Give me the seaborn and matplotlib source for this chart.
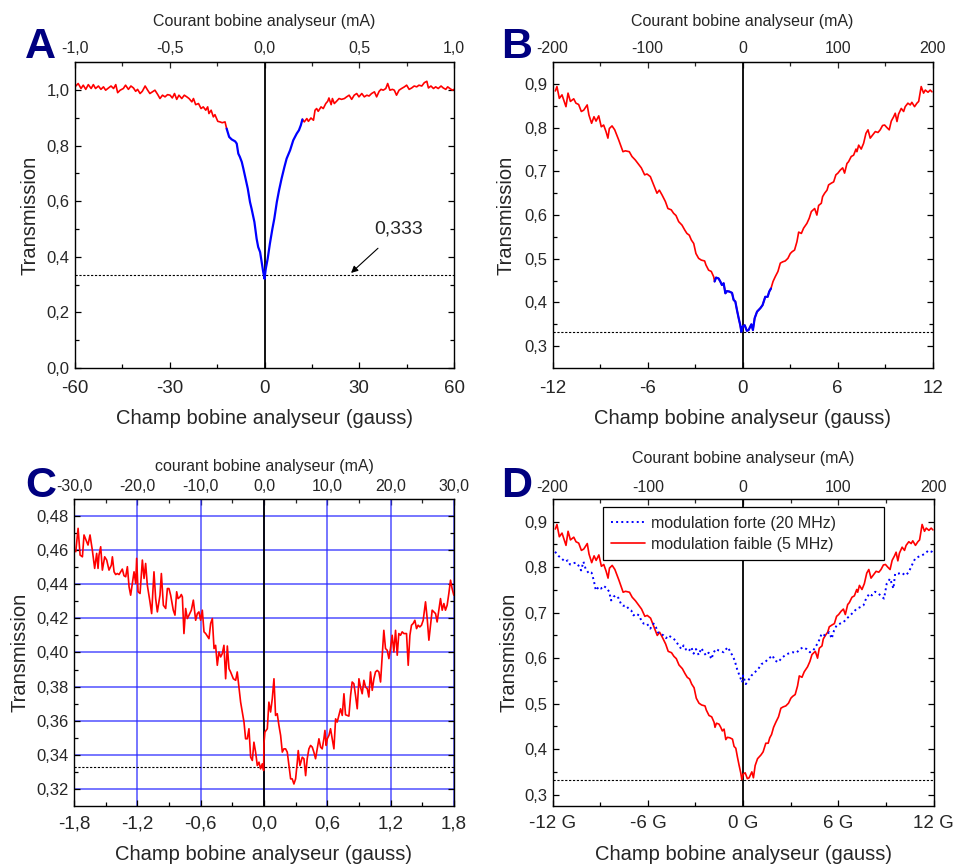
import matplotlib
matplotlib.use('Agg')
import matplotlib.pyplot as plt
import seaborn as sns
import numpy as np
from matplotlib.ticker import FixedLocator

# ---------------- données ----------------
# A : balayage large (gauss) ; partie centrale en bleu
a_left_x = [-60.0, -59.0, -58.1, -57.4, -56.6, -55.8, -54.9, -54.2, -53.5, -52.6,
            -51.8, -51.0, -50.3, -49.4, -48.6, -47.8, -47.1, -46.5, -45.7, -44.7,
            -44.0, -43.1, -42.3, -41.5, -40.8, -40.2, -39.4, -38.7, -37.8, -37.0,
            -36.3, -35.5, -34.7, -33.8, -33.1, -32.3, -31.5, -30.7, -29.9, -29.2,
            -28.5, -27.8, -27.1, -26.2, -25.4, -24.6, -23.9, -23.0, -22.5, -21.8,
            -20.9, -20.1, -19.4, -18.6, -18.0, -17.6, -16.9, -16.2, -15.7, -14.8,
            -14.1, -13.4, -12.5, -12.0]
a_left_y = [1.011, 1.023, 1.005, 1.017, 1.002, 1.019, 1.005, 1.019, 1.005, 1.014,
            1.002, 1.011, 0.999, 1.007, 1.014, 1.005, 1.019, 0.990, 0.999, 1.005,
            1.017, 1.002, 1.014, 1.007, 0.995, 1.002, 0.987, 0.995, 1.014, 0.999,
            0.987, 0.993, 0.999, 0.983, 0.969, 0.981, 0.975, 0.983, 0.981, 0.971,
            0.987, 0.966, 0.981, 0.969, 0.981, 0.975, 0.969, 0.957, 0.969, 0.947,
            0.951, 0.933, 0.939, 0.927, 0.939, 0.915, 0.927, 0.903, 0.911, 0.887,
            0.885, 0.882, 0.885, 0.861]
a_mid_x = [-12.0, -11.2, -10.4, -9.3, -8.8, -8.3, -7.8, -7.2, -6.7, -6.0,
           -5.3, -4.6, -4.1, -3.2, -2.5, -2.0, -1.4, -0.9, -0.4, 0.0,
           0.4, 1.0, 1.7, 2.5, 3.1, 3.9, 4.6, 5.4, 6.3, 7.0,
           8.1, 9.1, 10.2, 10.9, 11.5, 12.0]
a_mid_y = [0.861, 0.831, 0.822, 0.815, 0.807, 0.771, 0.759, 0.741, 0.717, 0.681,
           0.645, 0.597, 0.573, 0.525, 0.465, 0.435, 0.417, 0.381, 0.345, 0.321,
           0.357, 0.393, 0.447, 0.501, 0.537, 0.597, 0.639, 0.681, 0.723, 0.753,
           0.783, 0.819, 0.843, 0.855, 0.873, 0.894]
a_right_x = [12.0, 12.6, 13.4, 13.9, 14.7, 15.5, 16.0, 16.5, 17.0, 17.9,
             18.6, 19.4, 20.0, 20.4, 21.1, 21.5, 22.1, 22.8, 23.6, 24.4,
             25.3, 26.0, 26.8, 27.6, 28.4, 29.2, 29.9, 30.8, 31.6, 32.4,
             33.1, 33.9, 34.8, 35.5, 36.3, 36.9, 37.6, 38.4, 39.0, 39.7,
             40.5, 41.1, 41.8, 42.6, 43.4, 44.3, 45.0, 45.8, 46.6, 47.4,
             48.2, 48.9, 49.8, 50.6, 51.4, 51.9, 52.7, 53.5, 54.2, 55.0,
             55.9, 56.6, 57.4, 58.0, 58.7, 59.5, 60.0]
a_right_y = [0.894, 0.885, 0.897, 0.887, 0.899, 0.891, 0.927, 0.933, 0.923, 0.939,
             0.933, 0.951, 0.959, 0.971, 0.947, 0.969, 0.951, 0.959, 0.969, 0.966,
             0.969, 0.975, 0.981, 0.966, 0.981, 0.987, 0.975, 0.987, 0.975, 0.981,
             0.978, 0.987, 0.993, 0.975, 0.995, 1.002, 0.999, 1.005, 1.023, 0.999,
             1.002, 0.999, 0.981, 0.999, 1.005, 1.011, 1.017, 1.002, 1.007, 1.014,
             1.011, 1.017, 1.014, 1.026, 1.031, 1.007, 1.014, 1.005, 1.011, 1.005,
             1.014, 1.007, 1.002, 1.011, 1.005, 0.999, 1.002]

# B et D : modulation faible (5 MHz), champ en gauss
b_x = [-11.83, -11.73, -11.58, -11.41, -11.16, -11.03, -10.88, -10.67, -10.53, -10.36,
       -10.19, -10.04, -9.82, -9.71, -9.54, -9.39, -9.26, -9.09, -8.93, -8.78,
       -8.63, -8.51, -8.42, -8.25, -8.08, -7.83, -7.56, -7.41, -7.16, -6.99,
       -6.78, -6.61, -6.40, -6.19, -6.04, -5.83, -5.62, -5.41, -5.26, -5.09,
       -4.88, -4.72, -4.51, -4.36, -4.21, -4.04, -3.83, -3.66, -3.52, -3.37,
       -3.24, -3.09, -2.95, -2.78, -2.61, -2.40, -2.32, -2.15, -1.98, -1.83,
       -1.77, -1.68, -1.52, -1.41, -1.31, -1.20, -1.09, -0.99, -0.84, -0.67,
       -0.57, -0.46, -0.36, -0.25, -0.15, -0.08, 0.00, 0.13, 0.27, 0.38,
       0.55, 0.65, 0.76, 0.91, 1.12, 1.26, 1.43, 1.58, 1.68, 1.79,
       1.92, 2.06, 2.23, 2.38, 2.53, 2.69, 2.86, 3.01, 3.12, 3.28,
       3.43, 3.54, 3.71, 3.85, 4.06, 4.21, 4.34, 4.55, 4.69, 4.80,
       4.97, 5.05, 5.18, 5.33, 5.43, 5.60, 5.75, 5.89, 6.02, 6.17,
       6.32, 6.44, 6.59, 6.69, 6.86, 7.01, 7.16, 7.22, 7.33, 7.49,
       7.64, 7.79, 7.92, 8.06, 8.21, 8.38, 8.55, 8.69, 8.84, 8.97,
       9.12, 9.26, 9.39, 9.54, 9.64, 9.75, 9.85, 10.02, 10.17, 10.27,
       10.44, 10.59, 10.69, 10.86, 11.01, 11.12, 11.28, 11.43, 11.54, 11.71,
       11.85, 11.96]
b_y = [0.884, 0.894, 0.867, 0.875, 0.848, 0.879, 0.860, 0.866, 0.856, 0.853,
       0.837, 0.840, 0.852, 0.829, 0.810, 0.825, 0.815, 0.827, 0.802, 0.806,
       0.791, 0.776, 0.798, 0.804, 0.795, 0.772, 0.745, 0.747, 0.745, 0.734,
       0.726, 0.718, 0.708, 0.692, 0.694, 0.688, 0.669, 0.650, 0.657, 0.646,
       0.631, 0.615, 0.612, 0.604, 0.599, 0.585, 0.577, 0.566, 0.558, 0.554,
       0.543, 0.535, 0.512, 0.501, 0.497, 0.495, 0.486, 0.474, 0.471, 0.459,
       0.448, 0.457, 0.455, 0.448, 0.440, 0.444, 0.421, 0.426, 0.425, 0.422,
       0.406, 0.402, 0.383, 0.364, 0.348, 0.333, 0.345, 0.348, 0.335, 0.337,
       0.350, 0.337, 0.364, 0.379, 0.387, 0.394, 0.413, 0.413, 0.425, 0.432,
       0.448, 0.459, 0.471, 0.490, 0.493, 0.495, 0.501, 0.512, 0.516, 0.520,
       0.539, 0.561, 0.558, 0.570, 0.581, 0.593, 0.608, 0.615, 0.600, 0.622,
       0.627, 0.642, 0.650, 0.657, 0.669, 0.673, 0.676, 0.692, 0.696, 0.703,
       0.708, 0.696, 0.718, 0.722, 0.734, 0.737, 0.751, 0.745, 0.760, 0.751,
       0.764, 0.787, 0.795, 0.776, 0.783, 0.791, 0.789, 0.795, 0.805, 0.806,
       0.800, 0.795, 0.815, 0.825, 0.833, 0.814, 0.831, 0.844, 0.837, 0.848,
       0.856, 0.852, 0.858, 0.848, 0.856, 0.860, 0.894, 0.879, 0.886, 0.881,
       0.886, 0.882]
b_blue_limit = 1.8

# C : zoom au centre, courbe bruitée
c_x = [-1.783, -1.761, -1.742, -1.720, -1.705, -1.679, -1.667, -1.648, -1.626, -1.604,
       -1.585, -1.572, -1.563, -1.547, -1.531, -1.509, -1.490, -1.468, -1.446, -1.436,
       -1.420, -1.405, -1.389, -1.373, -1.357, -1.342, -1.326, -1.310, -1.294, -1.278,
       -1.263, -1.247, -1.231, -1.215, -1.206, -1.193, -1.174, -1.152, -1.136, -1.121,
       -1.105, -1.080, -1.064, -1.042, -1.026, -1.010, -0.985, -0.972, -0.953, -0.931,
       -0.915, -0.900, -0.884, -0.859, -0.843, -0.827, -0.814, -0.795, -0.783, -0.773,
       -0.758, -0.742, -0.726, -0.710, -0.688, -0.669, -0.647, -0.631, -0.616, -0.600,
       -0.584, -0.568, -0.552, -0.521, -0.505, -0.489, -0.473, -0.458, -0.442, -0.426,
       -0.410, -0.395, -0.379, -0.363, -0.347, -0.331, -0.316, -0.290, -0.268, -0.253,
       -0.237, -0.221, -0.205, -0.189, -0.174, -0.158, -0.142, -0.126, -0.110, -0.095,
       -0.079, -0.063, -0.047, -0.032, -0.016, -0.003,
       0.000, 0.009, 0.032, 0.047, 0.063, 0.079, 0.095, 0.110, 0.126, 0.142,
       0.158, 0.174, 0.189, 0.205, 0.221, 0.237, 0.253, 0.268, 0.284, 0.300,
       0.316, 0.325, 0.341, 0.363, 0.379, 0.395, 0.410, 0.426, 0.442, 0.458,
       0.473, 0.489, 0.505, 0.521, 0.537, 0.552, 0.568, 0.578, 0.590, 0.600,
       0.616, 0.631, 0.647, 0.663, 0.679, 0.694, 0.710, 0.726, 0.742, 0.758,
       0.773, 0.789, 0.805, 0.821, 0.836, 0.852, 0.868, 0.884, 0.900, 0.915,
       0.931, 0.947, 0.963, 0.979, 0.994, 1.010, 1.026, 1.042, 1.057, 1.073,
       1.089, 1.105, 1.121, 1.136, 1.152, 1.168, 1.184, 1.199, 1.215, 1.231,
       1.247, 1.263, 1.278, 1.294, 1.310, 1.326, 1.351, 1.367, 1.383, 1.398,
       1.414, 1.430, 1.446, 1.461, 1.477, 1.493, 1.509, 1.531, 1.547, 1.563,
       1.578, 1.594, 1.610, 1.626, 1.641, 1.657, 1.673, 1.689, 1.705, 1.720,
       1.736, 1.752, 1.768, 1.783, 1.799]
c_y = [0.4591, 0.4728, 0.4571, 0.4561, 0.4689, 0.4649, 0.4630, 0.4689, 0.4600, 0.4493,
       0.4581, 0.4493, 0.4571, 0.4620, 0.4483, 0.4561, 0.4542, 0.4483, 0.4512, 0.4561,
       0.4473, 0.4457, 0.4463, 0.4457, 0.4473, 0.4489, 0.4450, 0.4444, 0.4503, 0.4385,
       0.4336, 0.4405, 0.4473, 0.4405, 0.4552, 0.4356, 0.4346, 0.4542, 0.4434, 0.4522,
       0.4395, 0.4297, 0.4228, 0.4473, 0.4316, 0.4238, 0.4336, 0.4463, 0.4277, 0.4258,
       0.4375, 0.4375, 0.4336, 0.4248, 0.4219, 0.4356, 0.4316, 0.4326, 0.4340, 0.4326,
       0.4111, 0.4258, 0.4199, 0.4219, 0.4248, 0.4307, 0.4189, 0.4228, 0.4238, 0.4189,
       0.4248, 0.4121, 0.4111, 0.4081, 0.4170, 0.4199, 0.4023, 0.4042, 0.3925, 0.4003,
       0.3974, 0.3993, 0.4042, 0.3846, 0.4038, 0.3905, 0.3886, 0.3846, 0.3837, 0.3886,
       0.3797, 0.3709, 0.3651, 0.3592, 0.3494, 0.3494, 0.3553, 0.3386, 0.3367, 0.3474,
       0.3416, 0.3337, 0.3357, 0.3318, 0.3347, 0.3308,
       0.3465, 0.3533, 0.3553, 0.3709, 0.3651, 0.3729, 0.3846, 0.3631, 0.3641, 0.3572,
       0.3514, 0.3416, 0.3435, 0.3435, 0.3416, 0.3337, 0.3259, 0.3259, 0.3229, 0.3259,
       0.3357, 0.3425, 0.3337, 0.3386, 0.3377, 0.3278, 0.3377, 0.3435, 0.3455, 0.3445,
       0.3416, 0.3377, 0.3435, 0.3494, 0.3445, 0.3435, 0.3494, 0.3543, 0.3455, 0.3494,
       0.3514, 0.3553, 0.3494, 0.3435, 0.3611, 0.3592, 0.3631, 0.3670, 0.3631, 0.3758,
       0.3635, 0.3631, 0.3627, 0.3748, 0.3827, 0.3817, 0.3748, 0.3670, 0.3846, 0.3797,
       0.3758, 0.3837, 0.3797, 0.3788, 0.3739, 0.3886, 0.3778, 0.3846, 0.3886, 0.3895,
       0.3886, 0.3827, 0.3984, 0.4130, 0.4023, 0.4013, 0.3964, 0.4023, 0.4101, 0.4003,
       0.4130, 0.3984, 0.4111, 0.4101, 0.4121, 0.4111, 0.4111, 0.3925, 0.4101, 0.4160,
       0.4170, 0.4189, 0.4140, 0.4160, 0.4150, 0.4160, 0.4189, 0.4297, 0.4199, 0.4072,
       0.4160, 0.4248, 0.4238, 0.4228, 0.4179, 0.4248, 0.4316, 0.4248, 0.4287, 0.4248,
       0.4277, 0.4346, 0.4424, 0.4375, 0.4336]

# D : modulation forte (20 MHz)
d_x = [-11.85, -11.64, -11.43, -11.22, -11.05, -10.91, -10.76, -10.55, -10.38, -10.21,
       -10.06, -9.92, -9.71, -9.55, -9.41, -9.28, -9.09, -8.95, -8.80, -8.59,
       -8.44, -8.32, -8.17, -8.02, -7.85, -7.68, -7.54, -7.39, -7.22, -7.05,
       -6.91, -6.76, -6.55, -6.42, -6.27, -6.06, -5.85, -5.64, -5.49, -5.37,
       -5.22, -5.01, -4.86, -4.69, -4.53, -4.38, -4.23, -4.06, -3.89, -3.75,
       -3.60, -3.43, -3.26, -3.12, -2.97, -2.80, -2.63, -2.48, -2.34, -2.17,
       -2.00, -1.85, -1.71, -1.54, -1.37, -1.22, -1.07, -0.95, -0.80, -0.69,
       -0.53, -0.38, -0.23, -0.06,
       0.00, 0.17, 0.32, 0.53, 0.74, 0.95, 1.16, 1.37, 1.58, 1.85,
       2.00, 2.21, 2.42, 2.63, 2.84, 3.12, 3.37, 3.58, 3.79, 4.00,
       4.21, 4.42, 4.74, 4.95, 5.16, 5.43, 5.58, 5.73, 5.89, 6.11,
       6.32, 6.53, 6.74, 6.95, 7.16, 7.37, 7.58, 7.75, 7.96, 8.11,
       8.32, 8.53, 8.74, 8.88, 9.05, 9.26, 9.47, 9.58, 9.79, 10.00,
       10.21, 10.42, 10.63, 10.84, 11.05, 11.26, 11.47, 11.68, 11.89, 12.00]
d_y = [0.834, 0.825, 0.819, 0.812, 0.815, 0.806, 0.808, 0.810, 0.804, 0.793,
       0.812, 0.796, 0.786, 0.788, 0.771, 0.749, 0.757, 0.753, 0.759, 0.754,
       0.746, 0.727, 0.735, 0.738, 0.732, 0.718, 0.715, 0.716, 0.709, 0.705,
       0.694, 0.698, 0.694, 0.683, 0.676, 0.676, 0.665, 0.676, 0.668, 0.657,
       0.654, 0.650, 0.644, 0.650, 0.646, 0.643, 0.637, 0.628, 0.620, 0.628,
       0.619, 0.615, 0.624, 0.610, 0.620, 0.607, 0.622, 0.613, 0.606, 0.612,
       0.598, 0.613, 0.620, 0.617, 0.615, 0.613, 0.620, 0.624, 0.613, 0.607,
       0.595, 0.576, 0.562, 0.547,
       0.562, 0.543, 0.551, 0.562, 0.569, 0.576, 0.587, 0.591, 0.598, 0.606,
       0.595, 0.591, 0.600, 0.606, 0.610, 0.613, 0.612, 0.620, 0.624, 0.620,
       0.613, 0.617, 0.635, 0.654, 0.650, 0.657, 0.643, 0.661, 0.672, 0.676,
       0.679, 0.687, 0.694, 0.701, 0.709, 0.712, 0.716, 0.731, 0.742, 0.738,
       0.746, 0.742, 0.735, 0.731, 0.764, 0.775, 0.753, 0.786, 0.786, 0.788,
       0.782, 0.788, 0.804, 0.819, 0.823, 0.826, 0.830, 0.837, 0.834, 0.830]

seuil = 0.333
legend_labels = ['modulation forte (20 MHz)', 'modulation faible (5 MHz)']

# graduations
a_xticks = [-60, -30, 0, 30, 60]
a_xlabels = ['-60', '-30', '0', '30', '60']
a_yticks = [0.0, 0.2, 0.4, 0.6, 0.8, 1.0]
a_ylabels = ['0,0', '0,2', '0,4', '0,6', '0,8', '1,0']
a_topticks = [-1.0, -0.5, 0.0, 0.5, 1.0]
a_toplabels = ['-1,0', '-0,5', '0,0', '0,5', '1,0']

b_xticks = [-12, -6, 0, 6, 12]
b_xlabels = ['-12', '-6', '0', '6', '12']
b_yticks = [0.3, 0.4, 0.5, 0.6, 0.7, 0.8, 0.9]
b_ylabels = ['0,3', '0,4', '0,5', '0,6', '0,7', '0,8', '0,9']
b_topticks = [-200, -100, 0, 100, 200]
b_toplabels = ['-200', '-100', '0', '100', '200']

c_xticks = [-1.8, -1.2, -0.6, 0.0, 0.6, 1.2, 1.8]
c_xlabels = ['-1,8', '-1,2', '-0,6', '0,0', '0,6', '1,2', '1,8']
c_yticks = [0.32, 0.34, 0.36, 0.38, 0.40, 0.42, 0.44, 0.46, 0.48]
c_ylabels = ['0,32', '0,34', '0,36', '0,38', '0,40', '0,42', '0,44', '0,46', '0,48']
c_topticks = [-30, -20, -10, 0, 10, 20, 30]
c_toplabels = ['-30,0', '-20,0', '-10,0', '0,0', '10,0', '20,0', '30,0']

d_xlabels = ['-12 G', '-6 G', '0 G', '6 G', '12 G']

# ---------------- figure ----------------
sns.set_style('ticks')
plt.rcParams['font.family'] = ['Liberation Sans', 'DejaVu Sans']

fig = plt.figure(figsize=(9.57, 8.66), dpi=100)
axA = fig.add_axes([0.0784, 0.575, 0.396, 0.3533])
axB = fig.add_axes([0.5775, 0.575, 0.397, 0.3533])
axC = fig.add_axes([0.0773, 0.0693, 0.397, 0.3545])
axD = fig.add_axes([0.5775, 0.0693, 0.398, 0.3545])

RED = '#ff0000'
BLUE = '#0000ff'


def mise_en_forme(ax, xlim, ylim, xt, xl, xminor, yt, yl, yminor, g2ma,
                  tt, tl, tminor, toplabel, top_pad, top_lpad, bot_pad, xlpad, ylpad):
    ax.set_xlim(*xlim)
    ax.set_ylim(*ylim)
    ax.set_xticks(xt)
    ax.set_xticklabels(xl, fontsize=13.5)
    ax.xaxis.set_minor_locator(FixedLocator(xminor))
    ax.set_yticks(yt)
    ax.set_yticklabels(yl, fontsize=12)
    ax.yaxis.set_minor_locator(FixedLocator(yminor))
    ax.tick_params(which='both', direction='in', top=False, right=True,
                   width=0.9, color='black')
    ax.tick_params(which='major', length=4)
    ax.tick_params(which='minor', length=3)
    ax.tick_params(axis='x', pad=bot_pad)
    ax.tick_params(axis='y', pad=4)
    for s in ax.spines.values():
        s.set_linewidth(1.0)
        s.set_color('black')
    ax.set_xlabel('Champ bobine analyseur (gauss)', fontsize=14.5, labelpad=xlpad)
    ax.set_ylabel('Transmission', fontsize=14.5, labelpad=ylpad)
    sec = ax.secondary_xaxis('top', functions=(lambda g: g * g2ma, lambda m: m / g2ma))
    sec.set_xticks(tt)
    sec.set_xticklabels(tl, fontsize=11.5)
    sec.xaxis.set_minor_locator(FixedLocator(tminor))
    sec.tick_params(which='both', direction='in', pad=top_pad, width=0.9)
    sec.tick_params(which='major', length=4)
    sec.tick_params(which='minor', length=3)
    sec.set_xlabel(toplabel, fontsize=11.5, labelpad=top_lpad)
    ax.axvline(0, color='black', lw=1.3, zorder=1.8)
    ax.axhline(seuil, color='black', lw=0.8, ls=(0, (2, 1.5)), zorder=1.7)


# ---- A
mise_en_forme(axA, (-60, 60), (0, 1.1), a_xticks, a_xlabels, [-45, -15, 15, 45],
              a_yticks, a_ylabels, [0.1, 0.3, 0.5, 0.7, 0.9], 1 / 60.0,
              a_topticks, a_toplabels, [-0.75, -0.25, 0.25, 0.75],
              'Courant bobine analyseur (mA)', 4.5, 11, 8.5, 8.5, 5)
sns.lineplot(x=a_left_x, y=a_left_y, ax=axA, color=RED, lw=1.2, sort=False, estimator=None)
sns.lineplot(x=a_right_x, y=a_right_y, ax=axA, color=RED, lw=1.2, sort=False, estimator=None)
sns.lineplot(x=a_mid_x, y=a_mid_y, ax=axA, color=BLUE, lw=1.6, sort=False, estimator=None)
axA.annotate('0,333', xy=(27.4, 0.342), xytext=(42.6, 0.50), fontsize=14,
             ha='center', va='center',
             arrowprops=dict(arrowstyle='-|>', color='black', lw=0.8,
                             shrinkA=8, shrinkB=0, mutation_scale=10))

# ---- B
bx = np.array(b_x)
by = np.array(b_y)
centre = np.abs(bx) <= b_blue_limit
mise_en_forme(axB, (-12, 12), (0.25, 0.95), b_xticks, b_xlabels, [-9, -3, 3, 9],
              b_yticks, b_ylabels, [0.35, 0.45, 0.55, 0.65, 0.75, 0.85], 200 / 12.0,
              b_topticks, b_toplabels, [-150, -50, 50, 150],
              'Courant bobine analyseur (mA)', 4.5, 11, 8.5, 8.5, 6)
sns.lineplot(x=bx, y=by, ax=axB, color=RED, lw=1.2, sort=False, estimator=None)
sns.lineplot(x=bx[centre], y=by[centre], ax=axB, color=BLUE, lw=1.6, sort=False, estimator=None)

# ---- C
mise_en_forme(axC, (-1.8, 1.8), (0.31, 0.49), c_xticks, c_xlabels,
              [-1.5, -0.9, -0.3, 0.3, 0.9, 1.5],
              c_yticks, c_ylabels, [0.33, 0.35, 0.37, 0.39, 0.41, 0.43, 0.45, 0.47],
              30 / 1.8, c_topticks, c_toplabels, [-25, -15, -5, 5, 15, 25],
              'courant bobine analyseur (mA)', 3.5, 6, 6.5, 9, 4.5)
axC.grid(True, which='major', color='#2a2aff', lw=1.2, alpha=0.75)
sns.lineplot(x=c_x, y=c_y, ax=axC, color=RED, lw=1.2, sort=False, estimator=None)

# ---- D
mise_en_forme(axD, (-12, 12), (0.275, 0.95), b_xticks, d_xlabels, [-9, -3, 3, 9],
              b_yticks, b_ylabels, [0.35, 0.45, 0.55, 0.65, 0.75, 0.85], 200 / 12.0,
              b_topticks, b_toplabels, [-150, -50, 50, 150],
              'Courant bobine analyseur (mA)', 3, 12, 6.5, 9, 4)
sns.lineplot(x=b_x, y=b_y, ax=axD, color=RED, lw=1.2, sort=False, estimator=None)
sns.lineplot(x=d_x, y=d_y, ax=axD, color=BLUE, lw=1.4, linestyle=':', sort=False, estimator=None)
lines = axD.get_lines()
h_faible = [l for l in lines if l.get_color() == RED][-1]
h_forte = [l for l in lines if l.get_color() == BLUE][-1]
leg = axD.legend([h_forte, h_faible], legend_labels, loc='upper left',
                 bbox_to_anchor=(0.131, 0.796, 0.74, 0.177), mode='expand',
                 fontsize=11.5, frameon=True, fancybox=False, framealpha=1,
                 edgecolor='black', handlelength=2.1, handletextpad=0.4,
                 labelspacing=0.35, borderpad=0.55, borderaxespad=0)
leg.get_frame().set_linewidth(0.9)
leg.set_zorder(5)

# lettres des panneaux
for lettre, (px, py) in zip('ABCD', [(40, 47), (517, 47), (41, 486), (517, 486)]):
    fig.text(px / 957, 1 - py / 866, lettre, fontsize=31, fontweight='bold',
             color='#000080', ha='center', va='center')

fig.savefig('out.png', dpi=100)
